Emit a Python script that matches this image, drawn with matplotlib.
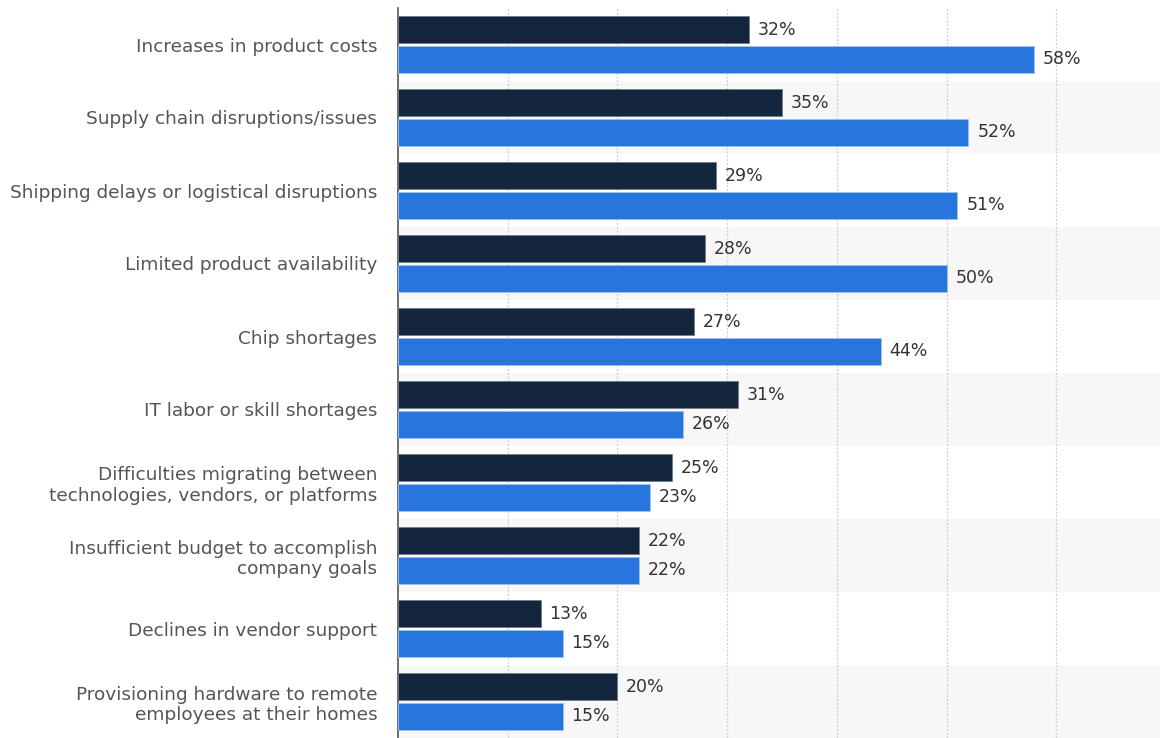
import numpy as np
import matplotlib.pyplot as plt

categories = [
    'Increases in product costs',
    'Supply chain disruptions/issues',
    'Shipping delays or logistical disruptions',
    'Limited product availability',
    'Chip shortages',
    'IT labor or skill shortages',
    'Difficulties migrating between\ntechnologies, vendors, or platforms',
    'Insufficient budget to accomplish\ncompany goals',
    'Declines in vendor support',
    'Provisioning hardware to remote\nemployees at their homes',
]
series_a = [32, 35, 29, 28, 27, 31, 25, 22, 13, 20]
series_b = [58, 52, 51, 50, 44, 26, 23, 22, 15, 15]

dark = '#13263d'
blue = '#2876dd'

fig = plt.figure(figsize=(11.6, 7.38), dpi=100)
ax = fig.add_axes([398 / 1160, 0.0, 1 - 398 / 1160, 1 - 8 / 738])

n = len(categories)
y = np.arange(n)
h = 0.37

# alternating row bands
for i in range(n):
    if i % 2 == 1:
        ax.axhspan(i - 0.5, i + 0.5, color='#f7f7f7', zorder=0, lw=0)

ax.barh(y - h / 2 - 0.02, series_a, height=h, color=dark, edgecolor='#6f7d8c',
        linewidth=0.6, zorder=3)
ax.barh(y + h / 2 + 0.02, series_b, height=h, color=blue, edgecolor='#9cc0ee',
        linewidth=0.6, zorder=3)

for i in range(n):
    ax.text(series_a[i] + 0.8, y[i] - h / 2 - 0.02, f'{series_a[i]}%',
            va='center', ha='left', fontsize=12.5, color='#333333', zorder=4)
    ax.text(series_b[i] + 0.8, y[i] + h / 2 + 0.02, f'{series_b[i]}%',
            va='center', ha='left', fontsize=12.5, color='#333333', zorder=4)

ax.set_xlim(0, (1160 - 398) / 10.97)
ax.set_ylim(n - 0.5, -0.5)
ax.set_yticks(y)
ax.set_yticklabels(categories, fontsize=13.3, color='#555555', linespacing=1.2)
ax.tick_params(axis='y', length=0, pad=15)
ax.set_xticks(np.arange(10, 70, 10))
ax.tick_params(axis='x', length=0, labelbottom=False)
ax.grid(axis='x', color='#cccccc', linestyle=(0, (1.5, 1.5)), linewidth=0.9, zorder=1)

for s in ['top', 'right', 'bottom']:
    ax.spines[s].set_visible(False)
ax.spines['left'].set_color('#555555')
ax.spines['left'].set_linewidth(1.2)

fig.savefig('out.png', dpi=100)
